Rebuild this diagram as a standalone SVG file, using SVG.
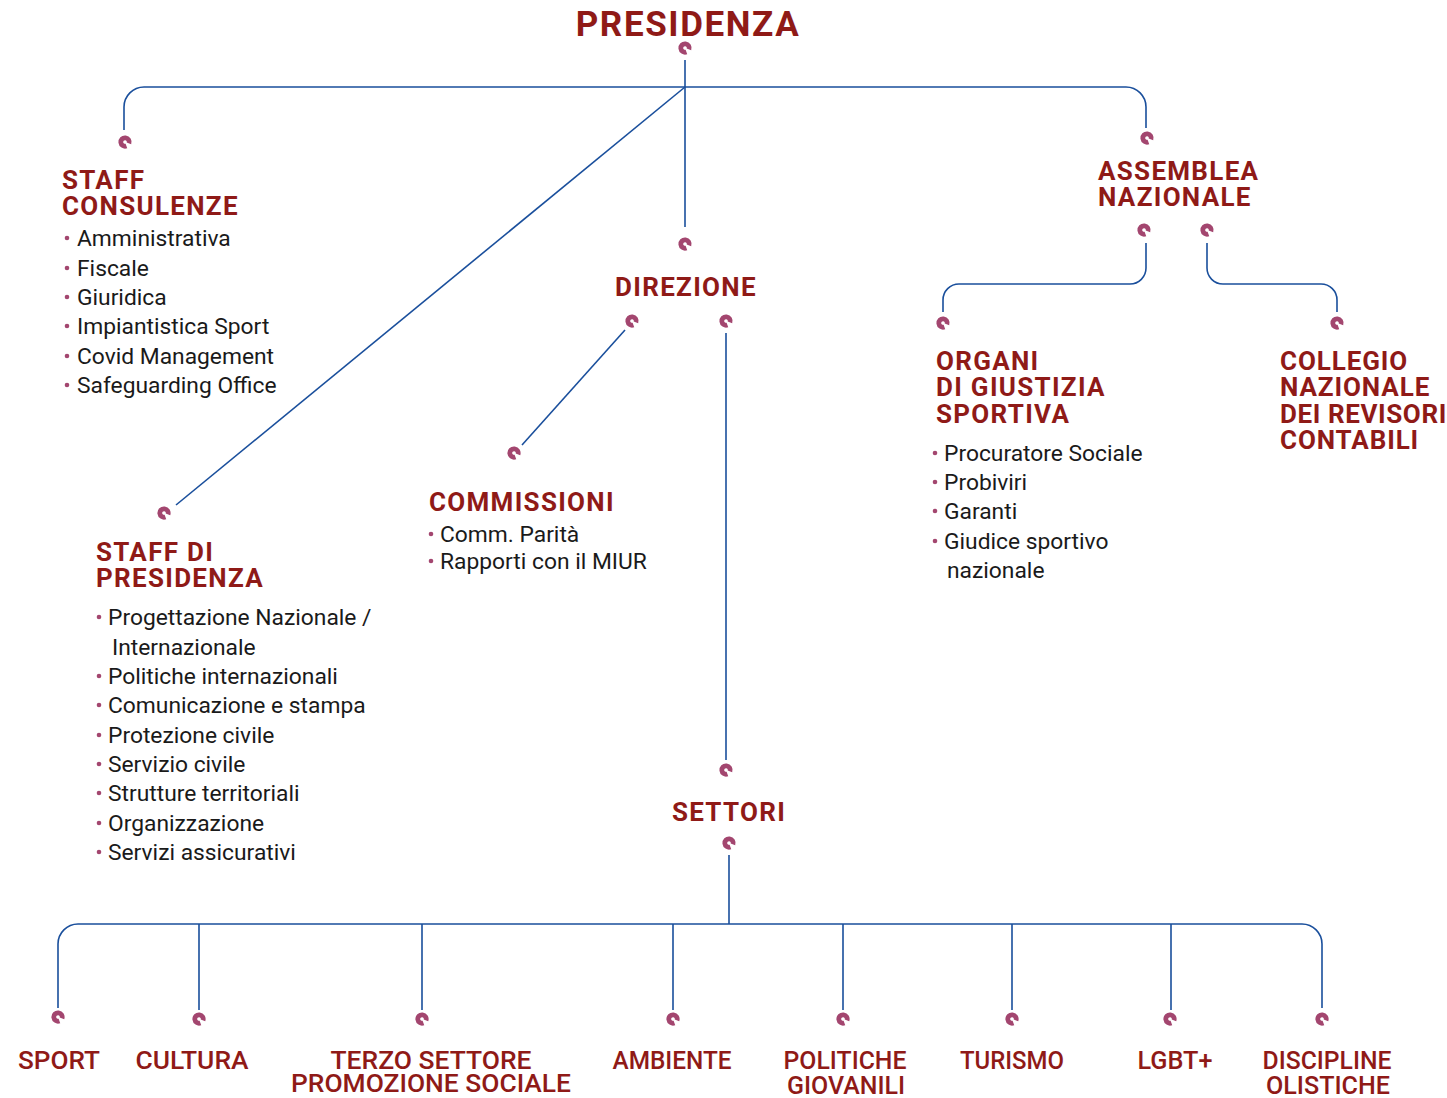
<svg xmlns="http://www.w3.org/2000/svg" width="1447" height="1098" viewBox="0 0 1447 1098">
<style>
.h{font-family:Roboto,"Liberation Sans",sans-serif;font-weight:700;fill:#8f1a17;font-size:26px;letter-spacing:1.3px}
.b{font-family:Roboto,"Liberation Sans",sans-serif;font-size:22.8px;fill:#1a1a1a}
.s{font-family:Roboto,"Liberation Sans",sans-serif;font-weight:500;fill:#8f1a17;font-size:26.5px;text-anchor:middle}
.dot{fill:#a3466f}
.c{fill:none;stroke:#1a4f9c;stroke-width:1.6}
</style>
<defs>
<g id="ic"><path d="M1.42,3.95 A4.2,4.2 0 1 1 3.95,1.42" fill="none" stroke="#a3466f" stroke-width="4.8"/></g>
</defs>
<rect width="1447" height="1098" fill="#ffffff"/>
<g id="connectors">
<path class="c" d="M685,60 V227"/>
<path class="c" d="M124,130 V107 A20,20 0 0 1 144,87 H1126 A20,20 0 0 1 1146,107 V128"/>
<path class="c" d="M685,87 L176,505"/>
<path class="c" d="M625,330 L522,445"/>
<path class="c" d="M726,333 V760"/>
<path class="c" d="M729,855 V924"/>
<path class="c" d="M58,1008 V944 A20,20 0 0 1 78,924 H1302 A20,20 0 0 1 1322,944 V1008"/>
<path class="c" d="M199,924 V1010 M422,924 V1010 M673,924 V1010 M843,924 V1010 M1012,924 V1010 M1171,924 V1010"/>
<path class="c" d="M1146,243 V268 A16,16 0 0 1 1130,284 H959 A16,16 0 0 0 943,300 V312"/>
<path class="c" d="M1207,243 V268 A16,16 0 0 0 1223,284 H1321 A16,16 0 0 1 1337,300 V312"/>
</g>
<g id="icons">
<use href="#ic" x="685" y="48"/>
<use href="#ic" x="125" y="142"/>
<use href="#ic" x="1147" y="138"/>
<use href="#ic" x="685" y="244"/>
<use href="#ic" x="632" y="321"/>
<use href="#ic" x="726" y="321"/>
<use href="#ic" x="514" y="453"/>
<use href="#ic" x="164" y="513"/>
<use href="#ic" x="1144" y="230"/>
<use href="#ic" x="1207" y="230"/>
<use href="#ic" x="943" y="323"/>
<use href="#ic" x="1337" y="323"/>
<use href="#ic" x="726" y="770"/>
<use href="#ic" x="729" y="843"/>
<use href="#ic" x="58" y="1017"/>
<use href="#ic" x="199" y="1019"/>
<use href="#ic" x="422" y="1019"/>
<use href="#ic" x="673" y="1019"/>
<use href="#ic" x="843" y="1019"/>
<use href="#ic" x="1012" y="1019"/>
<use href="#ic" x="1170" y="1019"/>
<use href="#ic" x="1322" y="1019"/>
</g>
<g id="presidenza"><text class="h" x="688" y="36" text-anchor="middle" style="font-size:35px;letter-spacing:1.6px">PRESIDENZA</text></g>
<g id="staff-consulenze">
<text class="h" x="62" y="189">STAFF</text>
<text class="h" x="62" y="215">CONSULENZE</text>
<circle class="dot" cx="67" cy="238" r="2.3"/><text class="b" x="77" y="246">Amministrativa</text>
<circle class="dot" cx="67" cy="268" r="2.3"/><text class="b" x="77" y="276">Fiscale</text>
<circle class="dot" cx="67" cy="297" r="2.3"/><text class="b" x="77" y="305">Giuridica</text>
<circle class="dot" cx="67" cy="326" r="2.3"/><text class="b" x="77" y="334">Impiantistica Sport</text>
<circle class="dot" cx="67" cy="356" r="2.3"/><text class="b" x="77" y="364">Covid Management</text>
<circle class="dot" cx="67" cy="385" r="2.3"/><text class="b" x="77" y="393">Safeguarding Office</text>
</g>
<g id="staff-presidenza">
<text class="h" x="96" y="561">STAFF DI</text>
<text class="h" x="96" y="587">PRESIDENZA</text>
<circle class="dot" cx="99" cy="617" r="2.3"/><text class="b" x="108" y="625">Progettazione Nazionale /</text>
<text class="b" x="112" y="655">Internazionale</text>
<circle class="dot" cx="99" cy="676" r="2.3"/><text class="b" x="108" y="684">Politiche internazionali</text>
<circle class="dot" cx="99" cy="705" r="2.3"/><text class="b" x="108" y="713">Comunicazione e stampa</text>
<circle class="dot" cx="99" cy="735" r="2.3"/><text class="b" x="108" y="743">Protezione civile</text>
<circle class="dot" cx="99" cy="764" r="2.3"/><text class="b" x="108" y="772">Servizio civile</text>
<circle class="dot" cx="99" cy="793" r="2.3"/><text class="b" x="108" y="801">Strutture territoriali</text>
<circle class="dot" cx="99" cy="823" r="2.3"/><text class="b" x="108" y="831">Organizzazione</text>
<circle class="dot" cx="99" cy="852" r="2.3"/><text class="b" x="108" y="860">Servizi assicurativi</text>
</g>
<g id="direzione"><text class="h" x="686" y="296" text-anchor="middle">DIREZIONE</text></g>
<g id="commissioni">
<text class="h" x="429" y="511">COMMISSIONI</text>
<circle class="dot" cx="431" cy="534" r="2.3"/><text class="b" x="440" y="542">Comm. Parità</text>
<circle class="dot" cx="431" cy="561" r="2.3"/><text class="b" x="440" y="569">Rapporti con il MIUR</text>
</g>
<g id="assemblea">
<text class="h" x="1098" y="180">ASSEMBLEA</text>
<text class="h" x="1098" y="206">NAZIONALE</text>
</g>
<g id="organi">
<text class="h" x="936" y="370">ORGANI</text>
<text class="h" x="936" y="396">DI GIUSTIZIA</text>
<text class="h" x="936" y="423">SPORTIVA</text>
<circle class="dot" cx="935" cy="453" r="2.3"/><text class="b" x="944" y="461">Procuratore Sociale</text>
<circle class="dot" cx="935" cy="482" r="2.3"/><text class="b" x="944" y="490">Probiviri</text>
<circle class="dot" cx="935" cy="511" r="2.3"/><text class="b" x="944" y="519">Garanti</text>
<circle class="dot" cx="935" cy="541" r="2.3"/><text class="b" x="944" y="549">Giudice sportivo</text>
<text class="b" x="947" y="578">nazionale</text>
</g>
<g id="collegio">
<text class="h" x="1280" y="370" style="letter-spacing:0.9px">COLLEGIO</text>
<text class="h" x="1280" y="396" style="letter-spacing:0.9px">NAZIONALE</text>
<text class="h" x="1280" y="423" style="letter-spacing:0.6px">DEI REVISORI</text>
<text class="h" x="1280" y="449" style="letter-spacing:0.9px">CONTABILI</text>
</g>
<g id="settori"><text class="h" x="729" y="821" text-anchor="middle">SETTORI</text></g>
<g id="sport"><text class="s" x="59" y="1069" textLength="82" lengthAdjust="spacingAndGlyphs">SPORT</text></g>
<g id="cultura"><text class="s" x="192" y="1069" textLength="113" lengthAdjust="spacingAndGlyphs">CULTURA</text></g>
<g id="terzo-settore"><text class="s" x="431" y="1069" textLength="201" lengthAdjust="spacingAndGlyphs">TERZO SETTORE</text><text class="s" x="431" y="1092" textLength="280" lengthAdjust="spacingAndGlyphs">PROMOZIONE SOCIALE</text></g>
<g id="ambiente"><text class="s" x="672" y="1069" textLength="119" lengthAdjust="spacingAndGlyphs">AMBIENTE</text></g>
<g id="politiche-giovanili"><text class="s" x="845" y="1069" textLength="123" lengthAdjust="spacingAndGlyphs">POLITICHE</text><text class="s" x="846" y="1094" textLength="118" lengthAdjust="spacingAndGlyphs">GIOVANILI</text></g>
<g id="turismo"><text class="s" x="1012" y="1069" textLength="104" lengthAdjust="spacingAndGlyphs">TURISMO</text></g>
<g id="lgbt"><text class="s" x="1175" y="1069" textLength="75" lengthAdjust="spacingAndGlyphs">LGBT+</text></g>
<g id="discipline-olistiche"><text class="s" x="1327" y="1069" textLength="129" lengthAdjust="spacingAndGlyphs">DISCIPLINE</text><text class="s" x="1328" y="1094" textLength="124" lengthAdjust="spacingAndGlyphs">OLISTICHE</text></g>
</svg>
